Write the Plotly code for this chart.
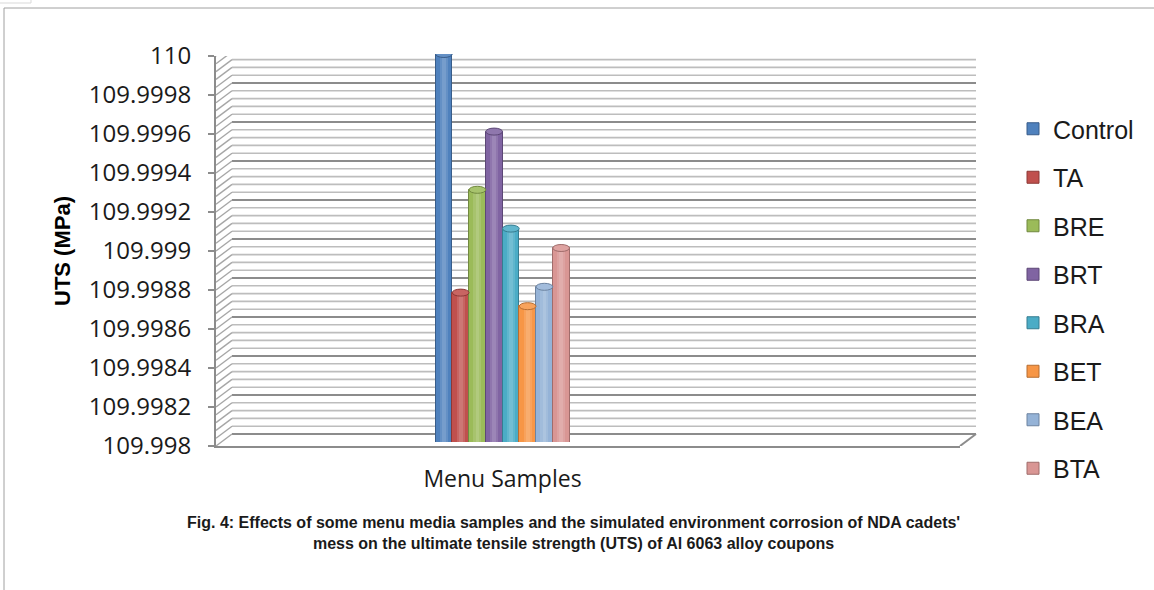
import plotly.graph_objects as go

W, H = 1154, 590

# ---- data ----
categories = ["Menu Samples"]
series_names = ["Control", "TA", "BRE", "BRT", "BRA", "BET", "BEA", "BTA"]
uts_values = [110.0, 109.99877, 109.9993, 109.9996, 109.9991, 109.9987, 109.9988, 109.999]
series_colors = ["#4F81BD", "#C0504D", "#9BBB59", "#8064A2",
                 "#4BACC6", "#F79646", "#95B3D7", "#D99694"]
edge_colors = ["#385D8A", "#8C3836", "#71893F", "#5C4776",
               "#357D91", "#B66D31", "#6C83A0", "#A06C6B"]
tick_values = [109.998, 109.9982, 109.9984, 109.9986, 109.9988,
               109.999, 109.9992, 109.9994, 109.9996, 109.9998, 110.0]
tick_labels = ["109.998", "109.9982", "109.9984", "109.9986", "109.9988",
               "109.999", "109.9992", "109.9994", "109.9996", "109.9998", "110"]
y_range = [109.998, 110.0]
minor_step = 0.00004

y_title = "UTS (MPa)"
caption = ("Fig. 4: Effects of some menu media samples and the simulated environment corrosion of NDA cadets'"
           "<br>mess on the ultimate tensile strength (UTS) of Al 6063 alloy coupons")

# ---- geometry of the 3-D box (pixels) ----
FRONT_L, FRONT_R = 216, 960      # front floor edge
FRONT_BOT, FRONT_TOP = 446, 56   # front vertical axis
DEPTH_X, DEPTH_Y = 16, 12        # offset of back wall
BACK_R = FRONT_R + DEPTH_X
BAR_L, BAR_R = 435, 570
BAR_BOT, BAR_TOP = 442, 54


def px(x):
    return x / W


def py(y):
    return 1 - y / H


def lighten(hex_color, amount):
    r, g, b = (int(hex_color[i:i + 2], 16) for i in (1, 3, 5))
    r, g, b = (round(c + (255 - c) * amount) for c in (r, g, b))
    return f"#{r:02X}{g:02X}{b:02X}"


fig = go.Figure()

n = len(series_names)
for name, val, col, edge in zip(series_names, uts_values, series_colors, edge_colors):
    fig.add_trace(go.Bar(
        x=categories, y=[val], name=name,
        marker=dict(color=col, line=dict(color=edge, width=1)),
        xaxis="x2", yaxis="y2", legendgroup=name,
    ))

# highlight strips giving the cylinders a rounded look
for axis, alpha, w in (("x3", 0.12, 0.06), ("x4", 0.12, 0.028)):
    for name, val in zip(series_names, uts_values):
        fig.add_trace(go.Bar(
            x=categories, y=[val], name=name, showlegend=False, hoverinfo="skip",
            marker=dict(color=f"rgba(255,255,255,{alpha})", line=dict(width=0)),
            width=w, xaxis=axis, yaxis="y2",
        ))

shapes = []
# back wall and side wall gridlines
k_max = int(round((y_range[1] - y_range[0]) / minor_step))
for k in range(k_max + 1):
    v = y_range[0] + k * minor_step
    major = k % 5 == 0
    col = "#8C8C8C" if major else "#BDBDBD"
    wid = 2 if major else 1.6
    shapes.append(dict(type="line", layer="below", xref="paper", yref="y",
                       x0=px(FRONT_L + DEPTH_X), x1=px(BACK_R),
                       ysizemode="pixel", yanchor=v, y0=DEPTH_Y, y1=DEPTH_Y,
                       line=dict(color=col, width=wid)))
    shapes.append(dict(type="line", layer="below", xref="paper", yref="y",
                       xsizemode="pixel", xanchor=px(FRONT_L), x0=0, x1=DEPTH_X,
                       ysizemode="pixel", yanchor=v, y0=0, y1=DEPTH_Y,
                       line=dict(color="#A6A6A6", width=1.4)))
# right edge of the floor
shapes.append(dict(type="line", layer="below", xref="paper", yref="y",
                   xsizemode="pixel", xanchor=px(FRONT_R), x0=0, x1=DEPTH_X,
                   ysizemode="pixel", yanchor=y_range[0], y0=0, y1=DEPTH_Y,
                   line=dict(color="#8C8C8C", width=2)))

# cylinder bottoms and tops
for i, (val, col, edge) in enumerate(zip(uts_values, series_colors, edge_colors)):
    xa, xb = i / n - 0.5, (i + 1) / n - 0.5
    shapes.append(dict(type="circle", layer="below", xref="x2", yref="y2",
                       x0=xa, x1=xb, ysizemode="pixel", yanchor=y_range[0], y0=-3, y1=3,
                       fillcolor=col, line=dict(color=edge, width=1)))
    shapes.append(dict(type="circle", layer="above", xref="x2", yref="y2",
                       x0=xa, x1=xb, ysizemode="pixel", yanchor=val, y0=-3.5, y1=3.5,
                       fillcolor=lighten(col, 0.12), line=dict(color=edge, width=1)))

# outer frame
shapes.append(dict(type="rect", xref="paper", yref="paper", x0=px(4), x1=1.05,
                   y0=-0.05, y1=py(8), line=dict(color="#A0A0A0", width=1)))
shapes.append(dict(type="rect", xref="paper", yref="paper", x0=-0.01, x1=px(31),
                   y0=py(3), y1=1.01, line=dict(color="#D9D9D9", width=1)))

fig.update_layout(
    width=W, height=H, margin=dict(l=0, r=0, t=0, b=0, autoexpand=False),
    paper_bgcolor="white", plot_bgcolor="rgba(0,0,0,0)",
    barmode="group", bargap=0, bargroupgap=0,
    showlegend=True,
    legend=dict(x=px(1013), y=py(106), xanchor="left", yanchor="top",
                font=dict(family="Liberation Sans, Arial, sans-serif",
                          size=25, color="#1a1a1a"),
                tracegroupgap=13, bgcolor="rgba(0,0,0,0)"),
    xaxis=dict(domain=[px(FRONT_L), px(FRONT_R)], range=[0, 1], anchor="y",
               showline=True, linecolor="#8C8C8C", linewidth=2, automargin=False,
               showticklabels=False, showgrid=False, zeroline=False, ticks=""),
    yaxis=dict(domain=[py(FRONT_BOT), py(FRONT_TOP)], range=y_range, anchor="x",
               tickvals=tick_values, ticktext=tick_labels, automargin=False,
               ticks="outside", ticklen=6, tickcolor="#8C8C8C", tickwidth=2,
               showline=True, linecolor="#8C8C8C", linewidth=2,
               showgrid=False, zeroline=False, ticklabelstandoff=12,
               tickfont=dict(family="Open Sans", size=24, color="#1a1a1a"),
               title=dict(text=y_title, standoff=12,
                          font=dict(family="Liberation Sans, Arial", size=22, color="black",
                                    weight="bold"))),
    xaxis2=dict(domain=[px(BAR_L), px(BAR_R)], anchor="y2", type="category",
                showline=False, showgrid=False, zeroline=False, ticks="",
                ticklabelstandoff=21, automargin=False,
                tickfont=dict(family="Open Sans", size=23, color="#1a1a1a")),
    xaxis3=dict(overlaying="x2", matches="x2", anchor="y2", type="category",
                showticklabels=False, showgrid=False, zeroline=False, ticks=""),
    xaxis4=dict(overlaying="x2", matches="x2", anchor="y2", type="category",
                showticklabels=False, showgrid=False, zeroline=False, ticks=""),
    yaxis2=dict(domain=[py(BAR_BOT), py(BAR_TOP)], range=y_range, anchor="x2",
                visible=False, showgrid=False, zeroline=False),
    shapes=shapes,
    annotations=[dict(text=caption, x=px(573), y=py(533), xref="paper", yref="paper",
                      xanchor="center", yanchor="middle", showarrow=False, align="center",
                      font=dict(family="Liberation Sans, Arial", size=16,
                                color="#1a1a1a", weight="bold"))],
)

fig.write_html("out.html")
